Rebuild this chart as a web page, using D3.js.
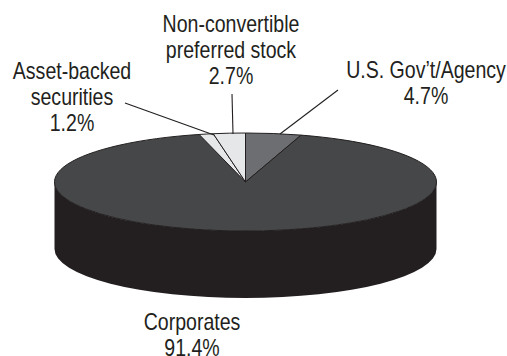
<!DOCTYPE html>
<html>
<head>
<meta charset="utf-8">
<script src="https://cdn.jsdelivr.net/npm/d3@7/dist/d3.min.js"></script>
<style>
html,body{margin:0;padding:0;background:#fff}
svg{display:block}
text{font-family:"Liberation Sans",sans-serif;font-size:23px;fill:#231f20;text-anchor:middle}
</style>
</head>
<body>
<div id="chart"></div>
<script>
// Portfolio mix by security type, starting at twelve o'clock and running clockwise
const categories = ["U.S. Gov't/Agency", "Corporates", "Asset-backed securities", "Non-convertible preferred stock"];
const shares = [4.7, 91.4, 1.2, 2.7];
const sliceColors = ["#6d6e71", "#464748", "#e6e7e8", "#e6e7e8"];

// Label blocks: each line is centred on the anchor, with the value on the last line
const labelLines = [
  ["U.S. Gov\u2019t/Agency", "4.7%"],
  ["Corporates", "91.4%"],
  ["Asset-backed", "securities", "1.2%"],
  ["Non-convertible", "preferred stock", "2.7%"]
];
const labelX = [426, 192, 72, 231];
const labelFirstBaseline = [78, 330, 79, 32];

// Leader lines as [x1, y1, x2, y2], indexed like the categories; the corporates label has none
const leaders = [[338, 90, 280, 134], null, [125, 103, 214, 135], [232, 94, 233, 134]];

const width = 507, height = 356;
const cx = 245.5, cy = 182, rx = 191, ry = 49, depth = 67;

const svg = d3.select("#chart").append("svg").attr("width", width).attr("height", height);

// Side wall of the disc: lower half of the rim swept down by the depth
svg.append("path")
  .attr("d", `M${cx - rx},${cy} A${rx},${ry} 0 0 0 ${cx + rx},${cy} L${cx + rx},${cy + depth} A${rx},${ry} 0 0 1 ${cx - rx},${cy + depth} Z`)
  .attr("fill", "#231f20");

// Top face: ordinary pie slices squashed vertically into the ellipse
const pie = d3.pie().sort(null).value(d => d);
const arc = d3.arc().innerRadius(0).outerRadius(rx);
svg.append("g")
  .attr("transform", `translate(${cx},${cy}) scale(1,${ry / rx})`)
  .selectAll("path")
  .data(pie(shares))
  .join("path")
  .attr("d", arc)
  .attr("fill", (d, i) => sliceColors[i])
  .attr("stroke", "#231f20")
  .attr("stroke-width", 1)
  .attr("stroke-linejoin", "round")
  .attr("vector-effect", "non-scaling-stroke");

svg.append("g")
  .selectAll("line")
  .data(leaders.filter(Boolean))
  .join("line")
  .attr("x1", d => d[0]).attr("y1", d => d[1])
  .attr("x2", d => d[2]).attr("y2", d => d[3])
  .attr("stroke", "#231f20")
  .attr("stroke-width", 1.1);

// The labels are set condensed: regular glyphs narrowed horizontally
const lineGap = 26, narrow = 0.85;
svg.append("g")
  .selectAll("text")
  .data(labelLines)
  .join("text")
  .attr("transform", (d, i) => `translate(${labelX[i]},${labelFirstBaseline[i]}) scale(${narrow},1)`)
  .selectAll("tspan")
  .data(d => d)
  .join("tspan")
  .attr("x", 0)
  .attr("y", (d, i) => i * lineGap)
  .text(d => d);
</script>
</body>
</html>
